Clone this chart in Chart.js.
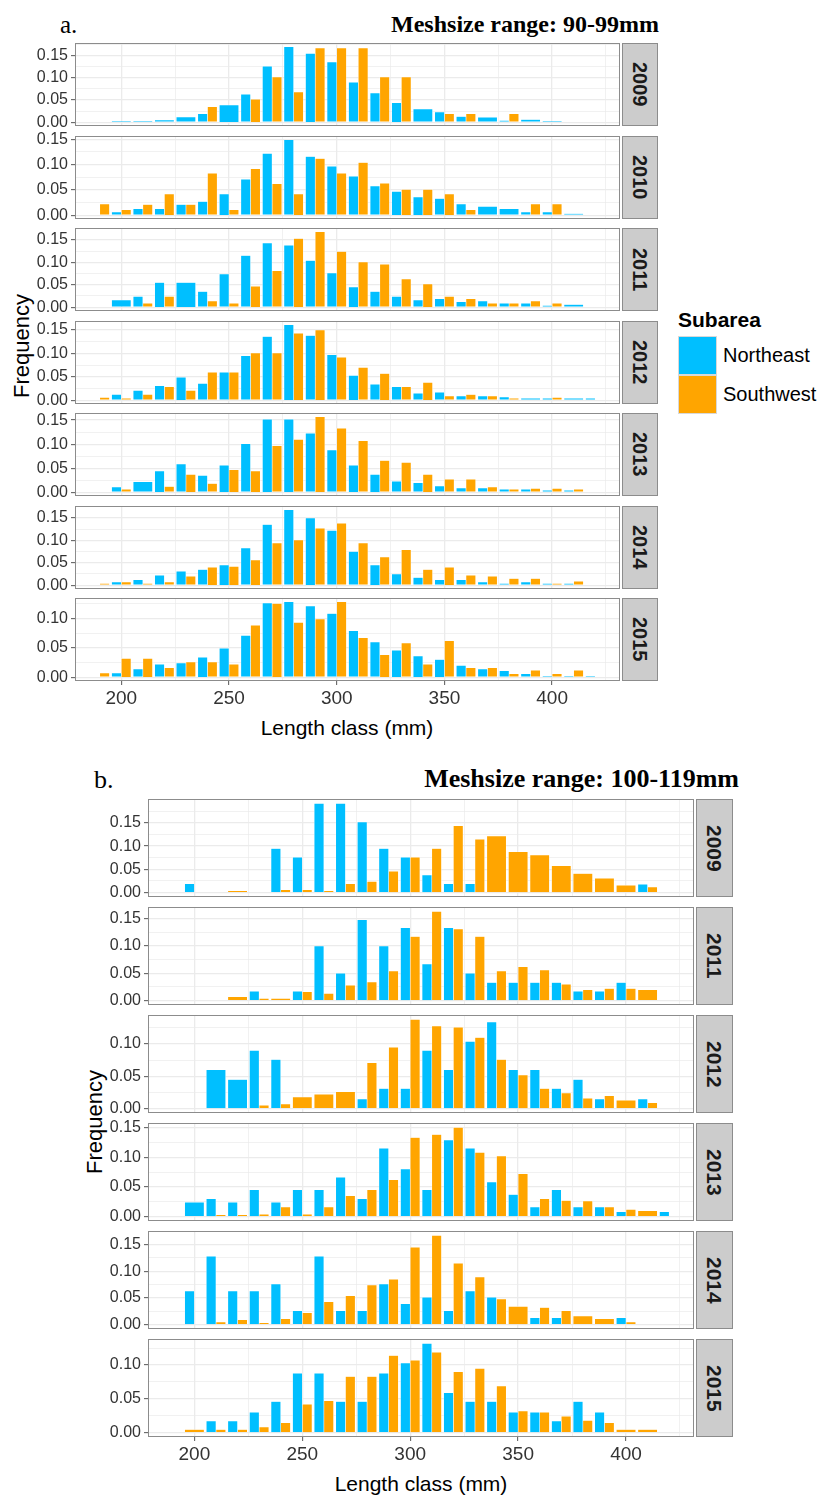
<!DOCTYPE html>
<html>
<head>
<meta charset="utf-8">
<script src="https://cdn.jsdelivr.net/npm/chart.js@4.4.1/dist/chart.umd.min.js"></script>
<style>
  html, body { margin: 0; padding: 0; background: #fff; }
  #page { position: relative; width: 827px; height: 1497px; overflow: hidden; background: #fff;
          font-family: "Liberation Sans", Arial, sans-serif; color: #000; }
  #page canvas { position: absolute; }
  .txt { position: absolute; white-space: nowrap; }
  .serif { font-family: "Liberation Serif", "Times New Roman", serif; }
  .strip { position: absolute; box-sizing: border-box; background: #cccccc; border: 1px solid #8c8c8c;
           display: flex; align-items: center; justify-content: center; }
  .strip span { writing-mode: vertical-rl; font-weight: bold; color: #1a1a1a; line-height: 1; }
  .key { position: absolute; box-sizing: border-box; border: 1px solid #d8d8d8; }
</style>
</head>
<body>
<div id="page">
  <div class="txt serif" style="left:60px; top:12px; font-size:25px; line-height:25px;">a.</div>
  <div class="txt serif" style="right:168px; top:12px; font-size:24px; line-height:24px; font-weight:bold;">Meshsize range: 90-99mm</div>
  <div class="txt serif" style="left:94px; top:767px; font-size:26px; line-height:26px;">b.</div>
  <div class="txt serif" style="right:88px; top:766px; font-size:26px; line-height:26px; font-weight:bold;">Meshsize range: 100-119mm</div>

  <div class="txt" style="left:678px; top:309px; font-size:21px; line-height:21px; font-weight:bold;">Subarea</div>
  <div class="key" style="left:678px; top:336px; width:39px; height:39px; background:#00BFFF;"></div>
  <div class="key" style="left:678px; top:375px; width:39px; height:39px; background:#FFA500;"></div>
  <div class="txt" style="left:723px; top:355px; font-size:20px; line-height:20px; transform:translateY(-50%);">Northeast</div>
  <div class="txt" style="left:723px; top:394px; font-size:20px; line-height:20px; transform:translateY(-50%);">Southwest</div>

  <div class="txt" style="left:22px; top:346px; font-size:22px; line-height:22px; transform:translate(-50%,-50%) rotate(-90deg);">Frequency</div>
  <div class="txt" style="left:347px; top:727px; font-size:21px; line-height:21px; transform:translate(-50%,-50%);">Length class (mm)</div>
  <div class="txt" style="left:95px; top:1122px; font-size:22px; line-height:22px; transform:translate(-50%,-50%) rotate(-90deg);">Frequency</div>
  <div class="txt" style="left:421px; top:1483px; font-size:21px; line-height:21px; transform:translate(-50%,-50%);">Length class (mm)</div>
</div>
<script>
// Length-class bins (mm, bin centres) shared by every panel
const BINS = [190, 200, 210, 220, 230, 240, 250, 260, 270, 280, 290, 300,
              310, 320, 330, 340, 350, 360, 370, 380, 390, 400, 410, 420];
const X_TICKS = [200, 250, 300, 350, 400];
const X_MINOR = [225, 275, 325, 375, 425];
const Y_TICKS = [0, 0.05, 0.10, 0.15];
const Y_MINOR = [0.025, 0.075, 0.125, 0.175];
const SERIES = ['Northeast', 'Southwest'];
const COLORS = ['#00BFFF', '#FFA500'];

// Mesh size 90-99 mm: relative frequency per length class (null = no fish in class)
const A_YEARS = ['2009', '2010', '2011', '2012', '2013', '2014', '2015'];
const A_NE_2009 = [null,.003,.003,.005,.012,.019,.039,.063,.126,.170,.155,.136,.090,.066,.044,.030,.023,.013,.011,.004,.006,.003,null,null];
const A_SW_2009 = [null,null,null,null,null,.035,null,.052,.102,.068,.167,.167,.167,.102,.102,null,.019,.019,null,.019,null,null,null,null];
const A_NE_2010 = [0,.0065,.013,.013,.021,.027,.042,.071,.122,.149,.116,.097,.077,.058,.047,.036,.033,.022,.0175,.013,.0065,.0065,.003,null];
const A_SW_2010 = [.022,.011,.021,.042,.021,.083,.011,.092,.062,.042,.112,.083,.104,.063,.051,.051,.042,.011,null,null,.022,.022,null,null];
const A_NE_2011 = [null,.016,.024,.055,.055,.035,.074,.115,.143,.138,.104,.076,.045,.035,.024,.016,.019,.012,.014,.009,.009,.004,.006,null];
const A_SW_2011 = [null,null,.009,.024,null,.014,.009,.047,.081,.153,.168,.124,.101,.096,.063,.052,.024,.019,.009,.009,.014,.009,null,null];
const A_NE_2012 = [0,.0125,.021,.031,.049,.036,.060,.095,.136,.161,.138,.097,.053,.034,.029,.015,.017,.009,.009,.007,.004,.004,.004,.004];
const A_SW_2012 = [.006,.004,.0125,.029,.021,.060,.060,.101,.101,.143,.150,.092,.070,.057,.029,.038,.009,.012,.009,.004,null,.006,null,0];
const A_NE_2013 = [null,.011,.022,.044,.059,.035,.056,.101,.152,.152,.123,.088,.056,.037,.023,.020,.013,.009,.009,.006,.006,.004,.004,null];
const A_SW_2013 = [null,.006,null,.012,.037,.018,.047,.044,.097,.110,.157,.133,.107,.066,.062,.037,.027,.027,.011,.006,.008,.008,.006,null];
const A_NE_2014 = [0,.007,.012,.022,.031,.035,.045,.083,.135,.168,.150,.122,.075,.045,.025,.017,.012,.012,.007,.004,.007,.004,.004,null];
const A_SW_2014 = [.004,.007,.004,.007,.020,.040,.042,.056,.094,.101,.127,.138,.094,.063,.079,.035,.040,.022,.020,.015,.015,.004,.009,null];
const A_NE_2015 = [0,.007,.014,.022,.024,.034,.049,.071,.126,.128,.121,.108,.079,.060,.046,.036,.030,.020,.014,.011,.006,.002,.002,.002];
const A_SW_2015 = [.007,.032,.032,.016,.026,.026,.022,.088,.125,.093,.099,.128,.067,.038,.058,.022,.062,.016,.016,.006,.012,.006,.012,0];

// Mesh size 100-119 mm
const B_YEARS = ['2009', '2011', '2012', '2013', '2014', '2015'];
const B_NE_2009 = [null,.019,null,null,null,.095,.076,.192,.192,.152,.095,.076,.038,.019,.019,null,null,null,null,null,null,null,.018,null];
const B_SW_2009 = [null,0,null,.004,null,.006,.006,.004,.019,.024,.046,.076,.095,.144,.115,.122,.088,.081,.058,.041,.031,.016,.012,null];
const B_NE_2011 = [null,null,null,null,.017,null,.017,.100,.050,.148,.100,.133,.067,.133,.050,.033,.033,.033,.033,.017,.017,.033,null,null];
const B_SW_2011 = [null,null,null,.007,.004,.004,.016,.013,.028,.034,.054,.117,.163,.131,.117,.054,.062,.056,.030,.020,.022,.022,.020,null];
const B_NE_2012 = [null,null,.060,.045,.090,.076,null,null,null,.015,.031,.031,.090,.060,.104,.134,.060,.060,.031,.045,.015,null,.015,null];
const B_SW_2012 = [null,null,null,null,.005,.007,.018,.022,.026,.071,.095,.138,.128,.126,.110,.076,.052,.031,.024,.016,.020,.013,.009,null];
const B_NE_2013 = [null,.024,.030,.024,.045,.024,.045,.045,.066,.030,.115,.080,.045,.129,.115,.058,.037,.016,.045,.016,.016,.008,null,.008];
const B_SW_2013 = [null,null,.003,.003,.004,.016,.004,.016,.035,.045,.062,.133,.138,.150,.108,.102,.072,.030,.027,.026,.016,.012,.010,0];
const B_NE_2014 = [null,.063,.128,.063,.063,.076,.026,.128,.026,.026,.076,.039,.051,.026,.063,.051,null,.013,.013,null,null,.013,null,null];
const B_SW_2014 = [null,0,.005,.009,.003,.011,.022,.043,.054,.074,.085,.145,.167,.115,.089,.048,.034,.032,.026,.016,.011,.005,null,null];
const B_NE_2015 = [null,null,.017,.017,.030,.046,.088,.088,.046,.046,.088,.103,.132,.059,.046,.046,.030,.030,.017,.046,.030,null,null,null];
const B_SW_2015 = [null,.0044,.0044,.0044,.0083,.0146,.042,.047,.083,.083,.114,.107,.119,.090,.095,.069,.032,.030,.024,.018,.0146,.0044,.0044,null];

// ---- axis range and bar geometry (mm) ----
const X_MIN = 178.5, X_MAX = 431.5;
const BIN_WIDTH = 10;
const PAIR_WIDTH = 0.9 * BIN_WIDTH;      // dodged pair occupies 90% of a bin
const HALF_WIDTH = PAIR_WIDTH / 2;

// ---- page layout (px) ----
const GEOM_A = { left: 75, right: 620, stripL: 622, stripW: 36, top0: 43, step: 92.5, h: 83, xAxisH: 32, tickFont: 16, stripFont: 20 };
const GEOM_B = { left: 148, right: 694, stripL: 696, stripW: 37, top0: 799, step: 108, h: 98, xAxisH: 32, tickFont: 16, stripFont: 21 };

const FIGS = [
  { geom: GEOM_A, years: A_YEARS,
    ne: [A_NE_2009, A_NE_2010, A_NE_2011, A_NE_2012, A_NE_2013, A_NE_2014, A_NE_2015],
    sw: [A_SW_2009, A_SW_2010, A_SW_2011, A_SW_2012, A_SW_2013, A_SW_2014, A_SW_2015] },
  { geom: GEOM_B, years: B_YEARS,
    ne: [B_NE_2009, B_NE_2011, B_NE_2012, B_NE_2013, B_NE_2014, B_NE_2015],
    sw: [B_SW_2009, B_SW_2011, B_SW_2012, B_SW_2013, B_SW_2014, B_SW_2015] }
];

Chart.defaults.font.family = '"Liberation Sans", Arial, sans-serif';

const near = (v, list) => list.some(t => Math.abs(t - v) < 1e-9);

// panel outline drawn over grid and bars
const panelFrame = {
  id: 'panelFrame',
  afterDraw(chart) {
    const { ctx, chartArea: a } = chart;
    ctx.save();
    ctx.strokeStyle = '#8c8c8c';
    ctx.lineWidth = 1;
    ctx.strokeRect(Math.round(a.left) + 0.5, Math.round(a.top) + 0.5,
                   Math.round(a.width) - 1, Math.round(a.height) - 1);
    ctx.restore();
  }
};

// Dodge: both subareas present -> two half-width bars, otherwise one full-width bar
function buildDatasets(ne, sw, pxPerMm) {
  const pairs = [[], []], solo = [[], []];
  BINS.forEach((c, k) => {
    const a = ne[k], b = sw[k];
    if (a != null && b != null) {
      pairs[0].push({ x: c - HALF_WIDTH / 2, y: a });
      pairs[1].push({ x: c + HALF_WIDTH / 2, y: b });
    } else if (a != null) {
      solo[0].push({ x: c, y: a });
    } else if (b != null) {
      solo[1].push({ x: c, y: b });
    }
  });
  const mk = (s, pts, w) => ({
    label: SERIES[s], data: pts, grouped: false,
    backgroundColor: COLORS[s],
    borderColor: 'rgba(255,255,255,0.55)', borderWidth: 0.6, borderSkipped: 'start',
    barThickness: w * pxPerMm
  });
  return [mk(0, pairs[0], HALF_WIDTH), mk(1, pairs[1], HALF_WIDTH),
          mk(0, solo[0], PAIR_WIDTH), mk(1, solo[1], PAIR_WIDTH)];
}

const page = document.getElementById('page');
const PAD = 12;

FIGS.forEach(fig => {
  const g = fig.geom;
  const pxPerMm = (g.right - g.left) / (X_MAX - X_MIN);
  fig.years.forEach((year, i) => {
    const last = i === fig.years.length - 1;
    const top = Math.round(g.top0 + i * g.step);
    const cw = g.right;
    const ch = g.h + PAD + (last ? g.xAxisH : PAD);

    const cv = document.createElement('canvas');
    cv.width = cw; cv.height = ch;
    cv.style.left = '0px'; cv.style.top = (top - PAD) + 'px';
    cv.style.width = cw + 'px'; cv.style.height = ch + 'px';
    page.appendChild(cv);

    const strip = document.createElement('div');
    strip.className = 'strip';
    strip.style.left = g.stripL + 'px'; strip.style.top = top + 'px';
    strip.style.width = g.stripW + 'px'; strip.style.height = g.h + 'px';
    strip.innerHTML = '<span style="font-size:' + g.stripFont + 'px">' + year + '</span>';
    page.appendChild(strip);

    const vals = fig.ne[i].concat(fig.sw[i]).filter(v => v != null);
    const vmax = Math.max(...vals);

    new Chart(cv, {
      type: 'bar',
      data: { datasets: buildDatasets(fig.ne[i], fig.sw[i], pxPerMm) },
      options: {
        responsive: false, animation: false, devicePixelRatio: 1,
        layout: { padding: { top: PAD, bottom: last ? 0 : PAD, left: 0, right: 0 } },
        plugins: { legend: { display: false }, tooltip: { enabled: false } },
        scales: {
          x: {
            type: 'linear', min: X_MIN, max: X_MAX, offset: false,
            afterBuildTicks: s => {
              s.ticks = X_TICKS.concat(X_MINOR).sort((p, q) => p - q)
                .filter(v => v >= s.min && v <= s.max).map(v => ({ value: v }));
            },
            afterFit: s => { s.height = last ? g.xAxisH : 0; s.paddingLeft = 0; s.paddingRight = 0; },
            ticks: {
              display: last, autoSkip: false, maxRotation: 0, padding: 2,
              color: '#333', font: { size: 19 },
              callback: v => near(v, X_TICKS) ? String(v) : ''
            },
            grid: {
              offset: false, drawTicks: last, tickLength: 4, tickWidth: 1,
              color: '#ebebeb',
              lineWidth: c => near(c.tick.value, X_TICKS) ? 1.3 : 0.7,
              tickColor: c => near(c.tick.value, X_TICKS) ? '#555' : 'rgba(0,0,0,0)'
            },
            border: { display: false }
          },
          y: {
            min: -0.05 * vmax, max: 1.05 * vmax,
            afterBuildTicks: s => {
              s.ticks = Y_TICKS.concat(Y_MINOR).sort((p, q) => p - q)
                .filter(v => v >= s.min && v <= s.max).map(v => ({ value: v }));
            },
            afterFit: s => { s.width = g.left; s.paddingTop = 0; s.paddingBottom = 0; },
            ticks: {
              autoSkip: false, padding: 3, color: '#333', font: { size: g.tickFont },
              callback: v => near(v, Y_TICKS) ? v.toFixed(2) : ''
            },
            grid: {
              tickLength: 4, tickWidth: 1, color: '#ebebeb',
              lineWidth: c => near(c.tick.value, Y_TICKS) ? 1.3 : 0.7,
              tickColor: c => near(c.tick.value, Y_TICKS) ? '#555' : 'rgba(0,0,0,0)'
            },
            border: { display: false }
          }
        }
      },
      plugins: [panelFrame]
    });
  });
});
</script>
</body>
</html>
